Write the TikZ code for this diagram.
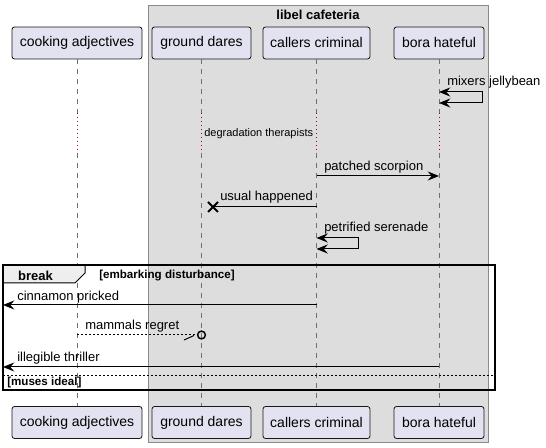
\documentclass[tikz,border=0pt]{standalone}
\usepackage{fontspec}
\setmainfont{Liberation Sans}
\usetikzlibrary{arrows.meta}
\definecolor{partfill}{HTML}{E2E2F0}
\definecolor{partdraw}{HTML}{181818}
\definecolor{boxfill}{HTML}{DDDDDD}
\definecolor{boxdraw}{HTML}{8A8A8A}
\definecolor{lifegray}{HTML}{707070}
\definecolor{delayred}{HTML}{A80036}
\definecolor{tabfill}{HTML}{EEEEEE}
\begin{document}
\begin{tikzpicture}[x=0.75pt,y=-0.75pt,
  part/.style={draw=partdraw,fill=partfill,rounded corners=1.9pt,line width=0.6pt,
    font=\fontsize{10.5}{12}\selectfont,minimum height=24pt,inner sep=0pt},
  lifeline/.style={draw=lifegray,line width=0.6pt,dash pattern=on 3.75pt off 3.75pt},
  delayline/.style={draw=delayred,line width=0.75pt,dash pattern=on 0.75pt off 2.25pt},
  msg/.style={draw=black,line width=0.75pt,-{Stealth[length=8.5pt,width=6.8pt,inset=3pt]}},
  selfmsg/.style={draw=black,line width=0.75pt,{Stealth[length=8.5pt,width=6.8pt,inset=3pt]}-{Stealth[length=8.5pt,width=6.8pt,inset=3pt]}},
  lbl/.style={font=\fontsize{9.75}{11}\selectfont,anchor=west,inner sep=0pt},
  smalllbl/.style={font=\fontsize{8.25}{10}\selectfont,anchor=west,inner sep=0pt},
  guardlbl/.style={font=\bfseries\fontsize{8.7}{10}\selectfont,anchor=west,inner sep=0pt},
  titlelbl/.style={font=\bfseries\fontsize{9.75}{11}\selectfont,inner sep=0pt},
  framebox/.style={draw=black,line width=1.5pt},
  tabbox/.style={draw=black,fill=tabfill,line width=0.75pt},
  sepline/.style={draw=black,line width=0.6pt,dash pattern=on 1.5pt off 1.5pt},
  grpbox/.style={draw=boxdraw,fill=boxfill,line width=0.75pt}
]
\useasboundingbox (0,0) rectangle (546,448);

% group box
\path[grpbox] (148,6) rectangle (488,443);
\node[titlelbl] (title) at (318,15) {libel cafeteria};

% participants (top and bottom)
\node[part,minimum width=97.5pt] (ca) at (77,43) {cooking adjectives};
\node[part,minimum width=74.25pt] (gd) at (201.5,43) {ground dares};
\node[part,minimum width=80.25pt] (cc) at (316.5,43) {callers criminal};
\node[part,minimum width=67.5pt] (bh) at (439,43) {bora hateful};
\node[part,minimum width=97.5pt] (cab) at (77,422.5) {cooking adjectives};
\node[part,minimum width=74.25pt] (gdb) at (201.5,422.5) {ground dares};
\node[part,minimum width=80.25pt] (ccb) at (316.5,422.5) {callers criminal};
\node[part,minimum width=67.5pt] (bhb) at (439,422.5) {bora hateful};

% lifelines with delay section
\foreach \p/\xx in {ca/77,gd/201.5,cc/316.5,bh/439}{
  \coordinate (\p d1) at (\xx,113);
  \coordinate (\p d2) at (\xx,153);
  \draw[lifeline] (\p.south) -- (\p d1);
  \draw[delayline] (\p d1) -- (\p d2);
  \draw[lifeline] (\p d2) -- (\p b.north);
}

% message 1: self on bora hateful
\coordinate (m1a) at (439,92);
\coordinate (m1b) at (482,92);
\coordinate (m1c) at (482,103);
\coordinate (m1d) at (439,103);
\draw[selfmsg] (m1a) -- (m1b) -- (m1c) -- (m1d);
\node[lbl] (l1) at (447,82.5) {mixers jellybean};

% delay text
\node[smalllbl] (dl) at (204,134) {degradation therapists};

% message 2
\coordinate (m2a) at (316.5,176);
\coordinate (m2b) at (439,176);
\draw[msg] (m2a) -- (m2b);
\node[lbl] (l2) at (324,167) {patched scorpion};

% message 3 with destroy X
\coordinate (m3a) at (316.5,207);
\coordinate (m3x) at (213,207);
\draw[draw=black,line width=0.75pt] (m3a) -- (m3x);
\draw[draw=black,line width=1.5pt] ([shift={(-5,-5)}]m3x) -- ([shift={(5,5)}]m3x)
  ([shift={(-5,5)}]m3x) -- ([shift={(5,-5)}]m3x);
\node[lbl] (l3) at (220,197) {usual happened};

% message 4: self on callers criminal
\coordinate (m4a) at (316.5,238);
\coordinate (m4b) at (358,238);
\coordinate (m4c) at (358,249);
\coordinate (m4d) at (316.5,249);
\draw[selfmsg] (m4a) -- (m4b) -- (m4c) -- (m4d);
\node[lbl] (l4) at (324,228) {petrified serenade};

% break frame
\coordinate (fr1) at (3,265);
\coordinate (fr2) at (495,390);
\path[tabbox] (3,265) -- (85,265) -- (85,273) -- (75,283) -- (3,283) -- cycle;
\draw[framebox] (fr1) rectangle (fr2);
\node[font=\bfseries\fontsize{9.75}{11}\selectfont,inner sep=0pt] (brk) at (35.5,276) {break};
\node[guardlbl] (g1) at (99,276) {[embarking disturbance]};

% message 5
\coordinate (m5a) at (316.5,305);
\coordinate (m5b) at (3,305);
\draw[msg] (m5a) -- (m5b);
\node[lbl] (l5) at (17,297) {cinnamon pricked};

% message 6: dashed with circle end and half arrow
\coordinate (m6a) at (77,335);
\coordinate (m6c) at (201.5,335);
\draw[draw=black,line width=0.75pt,dash pattern=on 1.5pt off 1.5pt] (m6a) -- (197.5,335);
\draw[draw=black,line width=0.75pt] (184,340) -- (194,335.5);
\draw[draw=black,line width=1.1pt] (m6c) circle[radius=3.9];
\node[lbl] (l6) at (85,326) {mammals regret};

% message 7
\coordinate (m7a) at (439,367);
\coordinate (m7b) at (3,367);
\draw[msg] (m7a) -- (m7b);
\node[lbl] (l7) at (17,358) {illegible thriller};

% separator
\coordinate (s1) at (3,375);
\coordinate (s2) at (495,375);
\draw[sepline] (s1) -- (s2);
\node[guardlbl] (g2) at (7,383) {[muses ideal]};
\end{tikzpicture}
\end{document}
